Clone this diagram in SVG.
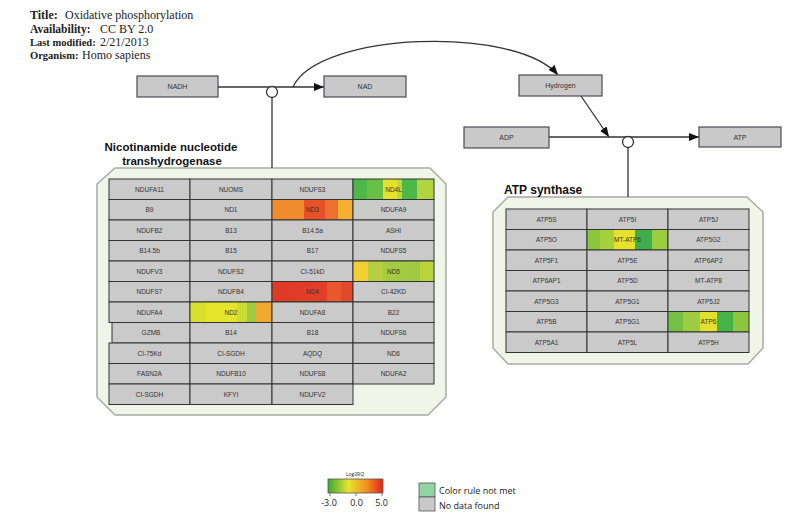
<svg xmlns="http://www.w3.org/2000/svg" width="786" height="515" viewBox="0 0 786 515">
<style>
  .hdr { font-family: "Liberation Serif", serif; font-size: 12px; fill: #222; }
  .hdr .k { font-weight: bold; }
  .grp { fill: #f1f5e9; stroke: #a9aba2; stroke-width: 1.5; }
  .gtitle { font-family: "Liberation Sans", Arial, sans-serif; font-weight: bold; fill: #111; }
  .box { fill: #c9c9c9; stroke: #4a4a55; stroke-width: 1.2; }
  .blbl { font-family: "Liberation Sans", Arial, sans-serif; font-size: 7px; fill: #333; text-anchor: middle; }
  .cell rect { stroke: #333; stroke-width: 1; fill: #cacaca; }
  .cell text { font-family: "Liberation Sans", Arial, sans-serif; font-size: 6.5px; fill: #333; text-anchor: middle; }
  .conn { fill: none; stroke: #333; stroke-width: 1.3; }
  .leg { font-family: "Open Sans", "DejaVu Sans", sans-serif; fill: #222; }
</style>
<defs>
  <marker id="arrow" viewBox="0 0 10 8" refX="10" refY="4" markerWidth="10" markerHeight="8" markerUnits="userSpaceOnUse" orient="auto">
    <path d="M0,0 L10,4 L0,8 z" fill="#111"/>
  </marker>
  <linearGradient id="gND4L" x1="0" y1="0" x2="1" y2="0">
    <stop offset="0" stop-color="#4db848"/><stop offset="0.17" stop-color="#4db848"/>
    <stop offset="0.17" stop-color="#6abf45"/><stop offset="0.375" stop-color="#6abf45"/>
    <stop offset="0.375" stop-color="#e4e22c"/><stop offset="0.54" stop-color="#e4e22c"/>
    <stop offset="0.54" stop-color="#c0d838"/><stop offset="0.6" stop-color="#c0d838"/>
    <stop offset="0.6" stop-color="#4cb848"/><stop offset="0.79" stop-color="#4cb848"/>
    <stop offset="0.79" stop-color="#b2d43e"/><stop offset="1" stop-color="#b2d43e"/>
  </linearGradient>
  <linearGradient id="gND3" x1="0" y1="0" x2="1" y2="0">
    <stop offset="0" stop-color="#f08c2c"/><stop offset="0.4" stop-color="#f08c2c"/>
    <stop offset="0.4" stop-color="#e85028"/><stop offset="0.65" stop-color="#e85028"/>
    <stop offset="0.65" stop-color="#ee7030"/><stop offset="0.81" stop-color="#ee7030"/>
    <stop offset="0.81" stop-color="#f4b030"/><stop offset="1" stop-color="#f4b030"/>
  </linearGradient>
  <linearGradient id="gND5" x1="0" y1="0" x2="1" y2="0">
    <stop offset="0" stop-color="#f0d030"/><stop offset="0.19" stop-color="#f0d030"/>
    <stop offset="0.19" stop-color="#b8d040"/><stop offset="0.37" stop-color="#b8d040"/>
    <stop offset="0.37" stop-color="#a6cc40"/><stop offset="0.83" stop-color="#a0ca42"/>
    <stop offset="0.83" stop-color="#bcd43c"/><stop offset="1" stop-color="#bcd43c"/>
  </linearGradient>
  <linearGradient id="gND4" x1="0" y1="0" x2="1" y2="0">
    <stop offset="0" stop-color="#e03a28"/><stop offset="0.68" stop-color="#e23e28"/>
    <stop offset="0.68" stop-color="#e8582c"/><stop offset="0.85" stop-color="#e8582c"/>
    <stop offset="0.85" stop-color="#e4482a"/><stop offset="1" stop-color="#e4482a"/>
  </linearGradient>
  <linearGradient id="gND2" x1="0" y1="0" x2="1" y2="0">
    <stop offset="0" stop-color="#d8e02c"/><stop offset="0.2" stop-color="#d8e02c"/>
    <stop offset="0.2" stop-color="#e4e42c"/><stop offset="0.57" stop-color="#e4e42c"/>
    <stop offset="0.57" stop-color="#c8dc34"/><stop offset="0.69" stop-color="#c8dc34"/>
    <stop offset="0.69" stop-color="#9cca44"/><stop offset="0.8" stop-color="#9cca44"/>
    <stop offset="0.8" stop-color="#f0aa30"/><stop offset="1" stop-color="#f0aa30"/>
  </linearGradient>
  <linearGradient id="gMTATP6" x1="0" y1="0" x2="1" y2="0">
    <stop offset="0" stop-color="#8cc63c"/><stop offset="0.16" stop-color="#8cc63c"/>
    <stop offset="0.16" stop-color="#a6d03c"/><stop offset="0.33" stop-color="#a6d03c"/>
    <stop offset="0.33" stop-color="#e6e22c"/><stop offset="0.59" stop-color="#e6e22c"/>
    <stop offset="0.59" stop-color="#3fae4a"/><stop offset="0.8" stop-color="#3fae4a"/>
    <stop offset="0.8" stop-color="#9ccc40"/><stop offset="1" stop-color="#9ccc40"/>
  </linearGradient>
  <linearGradient id="gATP6" x1="0" y1="0" x2="1" y2="0">
    <stop offset="0" stop-color="#74c044"/><stop offset="0.19" stop-color="#74c044"/>
    <stop offset="0.19" stop-color="#9ccc40"/><stop offset="0.39" stop-color="#9ccc40"/>
    <stop offset="0.39" stop-color="#e2e02c"/><stop offset="0.6" stop-color="#e2e02c"/>
    <stop offset="0.6" stop-color="#46b248"/><stop offset="0.8" stop-color="#46b248"/>
    <stop offset="0.8" stop-color="#8cc63e"/><stop offset="1" stop-color="#8cc63e"/>
  </linearGradient>
  <linearGradient id="gScale" x1="0" y1="0" x2="1" y2="0">
    <stop offset="0" stop-color="#3aaa35"/>
    <stop offset="0.375" stop-color="#e8e230"/>
    <stop offset="0.7" stop-color="#f39020"/>
    <stop offset="1" stop-color="#e2231a"/>
  </linearGradient>
</defs>

<!-- pathway header -->
<g id="header" class="hdr">
  <text y="19"><tspan class="k" x="30">Title:</tspan><tspan x="65">Oxidative phosphorylation</tspan></text>
  <text y="33"><tspan class="k" x="30" font-size="11.5">Availability:</tspan><tspan x="100">CC BY 2.0</tspan></text>
  <text y="46"><tspan class="k" x="30" font-size="10.5">Last modified:</tspan><tspan x="100">2/21/2013</tspan></text>
  <text y="59"><tspan class="k" x="30" font-size="10.5">Organism:</tspan><tspan x="82">Homo sapiens</tspan></text>
</g>

<!-- complex groups -->
<g id="group-transhydrogenase">
  <polygon class="grp" points="115,168 430,168 446,184 446,397 428,415 115,415 97,397 97,184"/>
  <text class="gtitle" font-size="11.5" x="171" y="151" text-anchor="middle">Nicotinamide nucleotide</text>
  <text class="gtitle" font-size="11.5" x="172" y="165" text-anchor="middle">transhydrogenase</text>
</g>
<g id="group-atp-synthase">
  <polygon class="grp" points="508,197 747,197 763,212 763,348 748,364 508,364 493,348 493,212"/>
  <text class="gtitle" font-size="12" x="504" y="194">ATP synthase</text>
</g>

<!-- connectors -->
<g id="connectors">
  <line class="conn" x1="218" y1="87" x2="324" y2="87" marker-end="url(#arrow)"/>
  <line class="conn" x1="272" y1="97.5" x2="272" y2="168"/>
  <circle cx="272" cy="92" r="5.5" fill="#fff" stroke="#333" stroke-width="1.3"/>
  <path class="conn" d="M293,87 C318,32 515,25 558,75" marker-end="url(#arrow)"/>
  <line class="conn" x1="581" y1="96" x2="609" y2="137" marker-end="url(#arrow)"/>
  <line class="conn" x1="549" y1="137" x2="699" y2="137" marker-end="url(#arrow)"/>
  <line class="conn" x1="628" y1="147.5" x2="628" y2="197"/>
  <circle cx="628" cy="142" r="5.5" fill="#fff" stroke="#333" stroke-width="1.3"/>
</g>

<!-- metabolites -->
<g id="NADH"><rect class="box" x="137" y="76" width="81" height="21"/><text class="blbl" x="177.5" y="89">NADH</text></g>
<g id="NAD"><rect class="box" x="324" y="76" width="82" height="21"/><text class="blbl" x="365" y="89">NAD</text></g>
<g id="Hydrogen"><rect class="box" x="519" y="75" width="83" height="21"/><text class="blbl" x="560.5" y="88">Hydrogen</text></g>
<g id="ADP"><rect class="box" x="464" y="127" width="85" height="21"/><text class="blbl" x="506.5" y="140">ADP</text></g>
<g id="ATP"><rect class="box" x="699" y="127" width="82" height="20"/><text class="blbl" x="740" y="139.5">ATP</text></g>

<!-- transhydrogenase subunits -->
<g id="NDUFA11" class="cell"><rect x="109" y="179" width="81" height="20.5"/><text x="149.5" y="191.5">NDUFA11</text></g>
<g id="NUOMS" class="cell"><rect x="190" y="179" width="82" height="20.5"/><text x="231" y="191.5">NUOMS</text></g>
<g id="NDUFS3" class="cell"><rect x="272" y="179" width="81" height="20.5"/><text x="312.5" y="191.5">NDUFS3</text></g>
<g id="ND4L" class="cell"><rect x="353" y="179" width="81" height="20.5" style="fill:url(#gND4L)"/><text x="393.5" y="191.5">ND4L</text></g>

<g id="B9" class="cell"><rect x="109" y="199.5" width="81" height="20.5"/><text x="149.5" y="212">B9</text></g>
<g id="ND1" class="cell"><rect x="190" y="199.5" width="82" height="20.5"/><text x="231" y="212">ND1</text></g>
<g id="ND3" class="cell"><rect x="272" y="199.5" width="81" height="20.5" style="fill:url(#gND3)"/><text x="312.5" y="212">ND3</text></g>
<g id="NDUFA9" class="cell"><rect x="353" y="199.5" width="81" height="20.5"/><text x="393.5" y="212">NDUFA9</text></g>

<g id="NDUFB2" class="cell"><rect x="109" y="220" width="81" height="20.5"/><text x="149.5" y="232.5">NDUFB2</text></g>
<g id="B13" class="cell"><rect x="190" y="220" width="82" height="20.5"/><text x="231" y="232.5">B13</text></g>
<g id="B14.5a" class="cell"><rect x="272" y="220" width="81" height="20.5"/><text x="312.5" y="232.5">B14.5a</text></g>
<g id="ASHI" class="cell"><rect x="353" y="220" width="81" height="20.5"/><text x="393.5" y="232.5">ASHI</text></g>

<g id="B14.5b" class="cell"><rect x="109" y="240.5" width="81" height="20.5"/><text x="149.5" y="253">B14.5b</text></g>
<g id="B15" class="cell"><rect x="190" y="240.5" width="82" height="20.5"/><text x="231" y="253">B15</text></g>
<g id="B17" class="cell"><rect x="272" y="240.5" width="81" height="20.5"/><text x="312.5" y="253">B17</text></g>
<g id="NDUFS5" class="cell"><rect x="353" y="240.5" width="81" height="20.5"/><text x="393.5" y="253">NDUFS5</text></g>

<g id="NDUFV3" class="cell"><rect x="109" y="261" width="81" height="20.5"/><text x="149.5" y="273.5">NDUFV3</text></g>
<g id="NDUFS2" class="cell"><rect x="190" y="261" width="82" height="20.5"/><text x="231" y="273.5">NDUFS2</text></g>
<g id="CI-51kD" class="cell"><rect x="272" y="261" width="81" height="20.5"/><text x="312.5" y="273.5">CI-51kD</text></g>
<g id="ND5" class="cell"><rect x="353" y="261" width="81" height="20.5" style="fill:url(#gND5)"/><text x="393.5" y="273.5">ND5</text></g>

<g id="NDUFS7" class="cell"><rect x="109" y="281.5" width="81" height="20.5"/><text x="149.5" y="294">NDUFS7</text></g>
<g id="NDUFB4" class="cell"><rect x="190" y="281.5" width="82" height="20.5"/><text x="231" y="294">NDUFB4</text></g>
<g id="ND4" class="cell"><rect x="272" y="281.5" width="81" height="20.5" style="fill:url(#gND4)"/><text x="312.5" y="294">ND4</text></g>
<g id="CI-42KD" class="cell"><rect x="353" y="281.5" width="81" height="20.5"/><text x="393.5" y="294">CI-42KD</text></g>

<g id="NDUFA4" class="cell"><rect x="109" y="302" width="81" height="20.5"/><text x="149.5" y="314.5">NDUFA4</text></g>
<g id="ND2" class="cell"><rect x="190" y="302" width="82" height="20.5" style="fill:url(#gND2)"/><text x="231" y="314.5">ND2</text></g>
<g id="NDUFA8" class="cell"><rect x="272" y="302" width="81" height="20.5"/><text x="312.5" y="314.5">NDUFA8</text></g>
<g id="B22" class="cell"><rect x="353" y="302" width="81" height="20.5"/><text x="393.5" y="314.5">B22</text></g>

<g id="GZMB" class="cell"><rect x="112" y="322.5" width="78" height="20.5"/><text x="151" y="335">GZMB</text></g>
<g id="B14" class="cell"><rect x="190" y="322.5" width="82" height="20.5"/><text x="231" y="335">B14</text></g>
<g id="B18" class="cell"><rect x="272" y="322.5" width="81" height="20.5"/><text x="312.5" y="335">B18</text></g>
<g id="NDUFS6" class="cell"><rect x="353" y="322.5" width="81" height="20.5"/><text x="393.5" y="335">NDUFS6</text></g>

<g id="CI-75Kd" class="cell"><rect x="109" y="343" width="81" height="20.5"/><text x="149.5" y="355.5">CI-75Kd</text></g>
<g id="CI-SGDH-1" class="cell"><rect x="190" y="343" width="82" height="20.5"/><text x="231" y="355.5">CI-SGDH</text></g>
<g id="AQDQ" class="cell"><rect x="272" y="343" width="81" height="20.5"/><text x="312.5" y="355.5">AQDQ</text></g>
<g id="ND6" class="cell"><rect x="353" y="343" width="81" height="20.5"/><text x="393.5" y="355.5">ND6</text></g>

<g id="FASN2A" class="cell"><rect x="109" y="363.5" width="81" height="20.5"/><text x="149.5" y="376">FASN2A</text></g>
<g id="NDUFB10" class="cell"><rect x="190" y="363.5" width="82" height="20.5"/><text x="231" y="376">NDUFB10</text></g>
<g id="NDUFS8" class="cell"><rect x="272" y="363.5" width="81" height="20.5"/><text x="312.5" y="376">NDUFS8</text></g>
<g id="NDUFA2" class="cell"><rect x="353" y="363.5" width="81" height="20.5"/><text x="393.5" y="376">NDUFA2</text></g>

<g id="CI-SGDH-2" class="cell"><rect x="109" y="384" width="81" height="20.5"/><text x="149.5" y="396.5">CI-SGDH</text></g>
<g id="KFYI" class="cell"><rect x="190" y="384" width="82" height="20.5"/><text x="231" y="396.5">KFYI</text></g>
<g id="NDUFV2" class="cell"><rect x="272" y="384" width="81" height="20.5"/><text x="312.5" y="396.5">NDUFV2</text></g>

<!-- ATP synthase subunits -->
<g id="ATP5S" class="cell"><rect x="506" y="209" width="81" height="20.5"/><text x="546.5" y="221.5">ATP5S</text></g>
<g id="ATP5I" class="cell"><rect x="587" y="209" width="81" height="20.5"/><text x="627.5" y="221.5">ATP5I</text></g>
<g id="ATP5J" class="cell"><rect x="668" y="209" width="81" height="20.5"/><text x="708.5" y="221.5">ATP5J</text></g>

<g id="ATP5O" class="cell"><rect x="506" y="229.5" width="81" height="20.5"/><text x="546.5" y="242">ATP5O</text></g>
<g id="MT-ATP6" class="cell"><rect x="587" y="229.5" width="81" height="20.5" style="fill:url(#gMTATP6)"/><text x="627.5" y="242">MT-ATP6</text></g>
<g id="ATP5G2" class="cell"><rect x="668" y="229.5" width="81" height="20.5"/><text x="708.5" y="242">ATP5G2</text></g>

<g id="ATP5F1" class="cell"><rect x="506" y="250" width="81" height="20.5"/><text x="546.5" y="262.5">ATP5F1</text></g>
<g id="ATP5E" class="cell"><rect x="587" y="250" width="81" height="20.5"/><text x="627.5" y="262.5">ATP5E</text></g>
<g id="ATP6AP2" class="cell"><rect x="668" y="250" width="81" height="20.5"/><text x="708.5" y="262.5">ATP6AP2</text></g>

<g id="ATP6AP1" class="cell"><rect x="506" y="270.5" width="81" height="20.5"/><text x="546.5" y="283">ATP6AP1</text></g>
<g id="ATP5D" class="cell"><rect x="587" y="270.5" width="81" height="20.5"/><text x="627.5" y="283">ATP5D</text></g>
<g id="MT-ATP8" class="cell"><rect x="668" y="270.5" width="81" height="20.5"/><text x="708.5" y="283">MT-ATP8</text></g>

<g id="ATP5G3" class="cell"><rect x="506" y="291" width="81" height="20.5"/><text x="546.5" y="303.5">ATP5G3</text></g>
<g id="ATP5G1-1" class="cell"><rect x="587" y="291" width="81" height="20.5"/><text x="627.5" y="303.5">ATP5G1</text></g>
<g id="ATP5J2" class="cell"><rect x="668" y="291" width="81" height="20.5"/><text x="708.5" y="303.5">ATP5J2</text></g>

<g id="ATP5B" class="cell"><rect x="506" y="311.5" width="81" height="20.5"/><text x="546.5" y="324">ATP5B</text></g>
<g id="ATP5G1-2" class="cell"><rect x="587" y="311.5" width="81" height="20.5"/><text x="627.5" y="324">ATP5G1</text></g>
<g id="ATP6" class="cell"><rect x="668" y="311.5" width="81" height="20.5" style="fill:url(#gATP6)"/><text x="708.5" y="324">ATP6</text></g>

<g id="ATP5A1" class="cell"><rect x="506" y="332" width="81" height="20.5"/><text x="546.5" y="344.5">ATP5A1</text></g>
<g id="ATP5L" class="cell"><rect x="587" y="332" width="81" height="20.5"/><text x="627.5" y="344.5">ATP5L</text></g>
<g id="ATP5H" class="cell"><rect x="668" y="332" width="81" height="20.5"/><text x="708.5" y="344.5">ATP5H</text></g>

<!-- legend -->
<g id="legend-scale">
  <text class="leg" x="355" y="475.5" font-size="5" text-anchor="middle">Log2RQ</text>
  <rect x="328" y="479" width="55" height="14" fill="url(#gScale)" stroke="#555" stroke-width="0.8"/>
  <line x1="330" y1="493" x2="330" y2="496" stroke="#555" stroke-width="0.8"/>
  <line x1="356" y1="493" x2="356" y2="496" stroke="#555" stroke-width="0.8"/>
  <line x1="382" y1="493" x2="382" y2="496" stroke="#555" stroke-width="0.8"/>
  <text class="leg" x="329" y="506" font-size="9" text-anchor="middle">-3.0</text>
  <text class="leg" x="356.5" y="506" font-size="9" text-anchor="middle">0.0</text>
  <text class="leg" x="381.5" y="506" font-size="9" text-anchor="middle">5.0</text>
</g>
<g id="legend-keys">
  <rect x="419" y="483" width="16" height="14" fill="#92d3a4" stroke="#555" stroke-width="0.8"/>
  <rect x="419" y="497" width="16" height="14" fill="#c9c9c9" stroke="#555" stroke-width="0.8"/>
  <text class="leg" x="439" y="494" font-size="9">Color rule not met</text>
  <text class="leg" x="439" y="508.5" font-size="9">No data found</text>
</g>
</svg>
